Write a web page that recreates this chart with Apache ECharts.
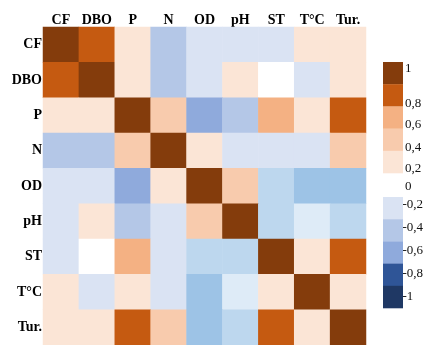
<!DOCTYPE html>
<html>
<head>
<meta charset="utf-8">
<script src="https://cdn.jsdelivr.net/npm/echarts@6/dist/echarts.min.js"></script>
<style>
  html, body { margin: 0; padding: 0; background: #fff; }
  #chart { width: 423px; height: 345px; }
</style>
</head>
<body>
<div id="chart"></div>
<script>
// Variables of the correlation matrix
const variables = ['CF', 'DBO', 'P', 'N', 'OD', 'pH', 'ST', 'T°C', 'Tur.'];

// Correlation coefficients, one row per variable
const rowCF  = [1, 0.8, 0.2, -0.4, -0.2, -0.2, -0.2, 0.2, 0.2];
const rowDBO = [0.8, 1, 0.2, -0.4, -0.2, 0.2, 0, -0.2, 0.2];
const rowP   = [0.2, 0.2, 1, 0.4, -0.6, -0.4, 0.6, 0.2, 0.8];
const rowN   = [-0.4, -0.4, 0.4, 1, 0.2, -0.2, -0.2, -0.2, 0.4];
const rowOD  = [-0.2, -0.2, -0.6, 0.2, 1, 0.4, -0.3, -0.5, -0.5];
const rowPH  = [-0.2, 0.2, -0.4, -0.2, 0.4, 1, -0.3, -0.15, -0.3];
const rowST  = [-0.2, 0, 0.6, -0.2, -0.3, -0.3, 1, 0.2, 0.8];
const rowTC  = [0.2, -0.2, 0.2, -0.2, -0.5, -0.15, 0.2, 1, 0.2];
const rowTur = [0.2, 0.2, 0.8, 0.4, -0.5, -0.3, 0.8, 0.2, 1];

// Colour-scale labels, top to bottom
const scaleLabels = ['1', '0,8', '0,6', '0,4', '0,2', '0', '-0,2', '-0,4', '-0,6', '-0,8', '-1'];

const matrix = [rowCF, rowDBO, rowP, rowN, rowOD, rowPH, rowST, rowTC, rowTur];
const cells = [];
matrix.forEach((row, r) => row.forEach((v, c) => cells.push([c, r, v])));

const C = {
  p10: '#843C0C', p08: '#C55A11', p06: '#F4B183', p04: '#F8CBAD', p02: '#FBE5D6',
  zero: '#FFFFFF',
  n01: '#DEEBF7', n02: '#DAE3F3', n03: '#BDD7EE', n04: '#B4C7E7', n05: '#9DC3E6',
  n06: '#8FAADC', n08: '#2F5597', n10: '#1F3864'
};

// Colour-scale key drawn on the right
const keyColors = [C.p10, C.p08, C.p06, C.p04, C.p02, null, C.n02, C.n04, C.n06, C.n08, C.n10];
const keyX = 383, keyW = 20, keyH = 22.2;
const keyTops = [62, 84.2, 106.4, 128.6, 150.8, null, 197, 219.2, 241.4, 263.6, 285.8];
const keyLabelY = [69, 104, 125, 148, 169, 187, 205, 228, 251, 274, 297];
const graphic = [];
keyColors.forEach((col, i) => {
  if (col) {
    graphic.push({
      type: 'rect', silent: true,
      shape: { x: keyX, y: keyTops[i], width: keyW, height: keyH + 0.3 },
      style: { fill: col }
    });
  }
});
scaleLabels.forEach((t, i) => {
  graphic.push({
    type: 'text', silent: true,
    x: t.startsWith('-') ? keyX + keyW - 0.5 : keyX + keyW + 2,
    y: keyLabelY[i],
    style: {
      text: t, fill: '#111', font: '13px "Liberation Serif", "Times New Roman", serif',
      verticalAlign: 'middle', align: 'left'
    }
  });
});

const labelFont = {
  fontFamily: '"Liberation Serif", "Times New Roman", serif',
  fontWeight: 'bold', fontSize: 14, color: '#000'
};

const chart = echarts.init(document.getElementById('chart'));
chart.setOption({
  animation: false,
  backgroundColor: '#fff',
  grid: { left: 43, top: 27, width: 323, height: 324 },
  xAxis: {
    type: 'category', data: variables, position: 'top',
    axisLine: { show: false }, axisTick: { show: false }, splitLine: { show: false },
    axisLabel: Object.assign({ margin: 0, interval: 0 }, labelFont)
  },
  yAxis: {
    type: 'category', data: variables, inverse: true,
    axisLine: { show: false }, axisTick: { show: false }, splitLine: { show: false },
    axisLabel: Object.assign({ margin: 1, interval: 0 }, labelFont)
  },
  visualMap: {
    type: 'piecewise', show: false, dimension: 2,
    pieces: [
      { gte: 0.9, color: C.p10 },
      { gte: 0.7, lt: 0.9, color: C.p08 },
      { gte: 0.5, lt: 0.7, color: C.p06 },
      { gte: 0.3, lt: 0.5, color: C.p04 },
      { gte: 0.1, lt: 0.3, color: C.p02 },
      { gt: -0.1, lt: 0.1, color: C.zero },
      { gt: -0.175, lte: -0.1, color: C.n01 },
      { gt: -0.25, lte: -0.175, color: C.n02 },
      { gt: -0.35, lte: -0.25, color: C.n03 },
      { gt: -0.45, lte: -0.35, color: C.n04 },
      { gt: -0.55, lte: -0.45, color: C.n05 },
      { gt: -0.7, lte: -0.55, color: C.n06 },
      { gt: -0.9, lte: -0.7, color: C.n08 },
      { lte: -0.9, color: C.n10 }
    ]
  },
  series: [{
    type: 'heatmap', data: cells,
    itemStyle: { borderWidth: 0 },
    emphasis: { disabled: true },
    label: { show: false }
  }],
  graphic: graphic
});
</script>
</body>
</html>
